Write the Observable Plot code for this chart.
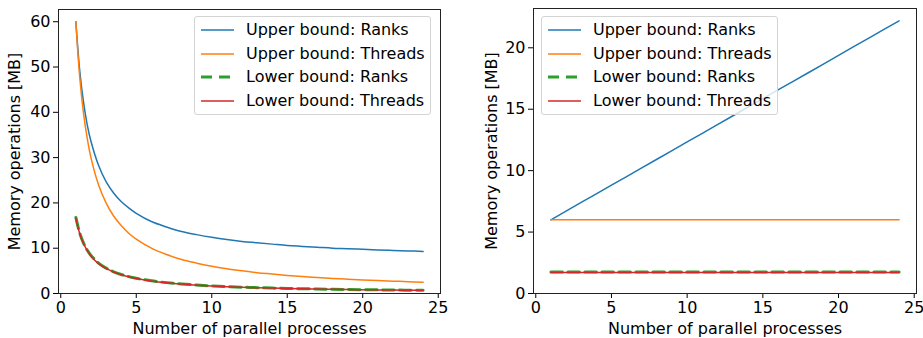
<!DOCTYPE html>
<html>
<head>
<meta charset="utf-8">
<script src="https://cdn.jsdelivr.net/npm/d3@7"></script>
<script src="https://cdn.jsdelivr.net/npm/@observablehq/plot@0.6"></script>
<style>
  html, body { margin: 0; padding: 0; background: #fff; }
  body { width: 923px; height: 338px; position: relative; overflow: hidden;
         font-family: "DejaVu Sans", sans-serif; }
  .panel { position: absolute; top: 0; }
  .legend { position: absolute; box-sizing: border-box; border: 1px solid #d4d4d4;
            border-radius: 3px; background: rgba(255,255,255,0.8);
            font: 16px "DejaVu Sans", sans-serif; color: #000; }
  .legend .row { position: absolute; left: 0; height: 20px; white-space: nowrap; }
  .legend svg { position: absolute; left: 5px; top: 0; }
  .legend span { position: absolute; left: 51px; top: 0; line-height: 20px; }
</style>
</head>
<body>
<script>
// ---- data ----
const seriesNames = ["Upper bound: Ranks", "Upper bound: Threads", "Lower bound: Ranks", "Lower bound: Threads"];
const seriesColors = ["#1f77b4", "#ff7f0e", "#2ca02c", "#d62728"];

// left panel (denser sampling where the curves bend)
const leftProcesses    = [1,1.25,1.5,1.75,2,2.5,3,3.5,4,4.5,5,6,7,8,9,10,11,12,13,14,15,16,17,18,19,20,21,22,23,24];
const leftUpperRanks   = [60.0,49.4,42.4,37.3,33.6,28.3,24.7,22.2,20.3,18.9,17.7,15.9,14.7,13.7,13.0,12.4,11.9,11.5,11.2,10.9,10.6,10.4,10.2,10.0,9.9,9.75,9.6,9.5,9.4,9.3];
const leftUpperThreads = [60.0,48.0,40.0,34.3,30.0,24.0,20.0,17.1,15.0,13.3,12.0,10.0,8.6,7.5,6.7,6.0,5.45,5.0,4.6,4.3,4.0,3.75,3.53,3.33,3.16,3.0,2.86,2.73,2.61,2.5];
const leftLowerRanks   = [16.8,13.4,11.2,9.6,8.4,6.7,5.6,4.8,4.2,3.73,3.36,2.8,2.4,2.1,1.87,1.68,1.53,1.4,1.29,1.2,1.12,1.05,0.99,0.93,0.88,0.84,0.8,0.76,0.73,0.70];
const leftLowerThreads = [16.6,13.3,11.1,9.5,8.3,6.6,5.53,4.74,4.15,3.69,3.32,2.77,2.37,2.08,1.84,1.66,1.51,1.38,1.28,1.19,1.11,1.04,0.98,0.92,0.87,0.83,0.79,0.75,0.72,0.69];

// right panel
const rightProcesses    = [1,2,3,4,5,6,7,8,9,10,11,12,13,14,15,16,17,18,19,20,21,22,23,24];
const rightUpperRanks   = [6.0,6.70,7.41,8.11,8.82,9.52,10.23,10.93,11.63,12.34,13.04,13.75,14.45,15.16,15.86,16.57,17.27,17.97,18.68,19.38,20.09,20.79,21.50,22.2];
const rightUpperThreads = [6.0,6.0,6.0,6.0,6.0,6.0,6.0,6.0,6.0,6.0,6.0,6.0,6.0,6.0,6.0,6.0,6.0,6.0,6.0,6.0,6.0,6.0,6.0,6.0];
const rightLowerRanks   = [1.75,1.75,1.75,1.75,1.75,1.75,1.75,1.75,1.75,1.75,1.75,1.75,1.75,1.75,1.75,1.75,1.75,1.75,1.75,1.75,1.75,1.75,1.75,1.75];
const rightLowerThreads = [1.70,1.70,1.70,1.70,1.70,1.70,1.70,1.70,1.70,1.70,1.70,1.70,1.70,1.70,1.70,1.70,1.70,1.70,1.70,1.70,1.70,1.70,1.70,1.70];

const xTicks = [0, 5, 10, 15, 20, 25];
const leftYTicks = [0, 10, 20, 30, 40, 50, 60];
const rightYTicks = [0, 5, 10, 15, 20];
const xLabel = "Number of parallel processes";
const yLabel = "Memory operations [MB]";

function panel({xs, series, yDomain, yTicks, width, marginLeft, marginRight, marginTop, labelOffset, curve}) {
  const rows = (arr) => xs.map((p, i) => ({x: p, y: arr[i]}));
  const [ur, ut, lr, lt] = series.map(rows);
  const common = {x: "x", y: "y", curve};
  return Plot.plot({
    width, height: 338,
    marginLeft, marginRight, marginTop, marginBottom: 45,
    style: {fontFamily: "DejaVu Sans, sans-serif", fontSize: "16px", color: "#000", background: "transparent", overflow: "visible"},
    x: {domain: [-0.15, 25.15]},
    y: {domain: yDomain},
    marks: [
      Plot.line(ur, {...common, stroke: seriesColors[0], strokeWidth: 1.5}),
      Plot.line(ut, {...common, stroke: seriesColors[1], strokeWidth: 1.5}),
      Plot.line(lr, {...common, stroke: seriesColors[2], strokeWidth: 3, strokeDasharray: "11.5,5.5"}),
      Plot.line(lt, {...common, stroke: seriesColors[3], strokeWidth: 1.5}),
      Plot.axisX({ticks: xTicks, tickSize: 5, tickPadding: 3, tickFormat: d3.format("d"),
                  label: xLabel, labelAnchor: "center", labelOffset: 40, labelArrow: "none", fontSize: 16}),
      Plot.axisY({ticks: yTicks, tickSize: 5, tickPadding: 3, tickFormat: d3.format("d"),
                  label: yLabel, labelAnchor: "center", labelOffset, labelArrow: "none", fontSize: 16}),
      Plot.frame({stroke: "#222", strokeWidth: 1})
    ]
  });
}

function legend(left) {
  const div = document.createElement("div");
  div.className = "legend";
  Object.assign(div.style, {left: left + "px", top: "16px", width: "237px", height: "99px"});
  seriesNames.forEach((name, i) => {
    const row = document.createElement("div");
    row.className = "row";
    row.style.top = (3 + i * 23.5) + "px";
    row.style.width = "100%";
    const dash = i === 2 ? 'stroke-dasharray="11,7"' : "";
    const sw = i === 2 ? 3 : 1.5;
    row.innerHTML = `<svg width="36" height="20"><line x1="1" x2="34" y1="10" y2="10" stroke="${seriesColors[i]}" stroke-width="${sw}" ${dash}/></svg><span>${name}</span>`;
    div.appendChild(row);
  });
  return div;
}

const left = panel({
  xs: leftProcesses,
  series: [leftUpperRanks, leftUpperThreads, leftLowerRanks, leftLowerThreads],
  yDomain: [0, 62.7], yTicks: leftYTicks, width: 460,
  marginLeft: 58, marginRight: 20, marginTop: 9, labelOffset: 50, curve: "catmull-rom"
});
const right = panel({
  xs: rightProcesses,
  series: [rightUpperRanks, rightUpperThreads, rightLowerRanks, rightLowerThreads],
  yDomain: [0, 23.2], yTicks: rightYTicks, width: 463,
  marginLeft: 73, marginRight: 7, marginTop: 8, labelOffset: 48, curve: "linear"
});

const wl = document.createElement("div"); wl.className = "panel"; wl.style.left = "0px"; wl.appendChild(left);
const wr = document.createElement("div"); wr.className = "panel"; wr.style.left = "460px"; wr.appendChild(right);
document.body.appendChild(wl);
document.body.appendChild(wr);
document.body.appendChild(legend(194));
document.body.appendChild(legend(541));
</script>
</body>
</html>
